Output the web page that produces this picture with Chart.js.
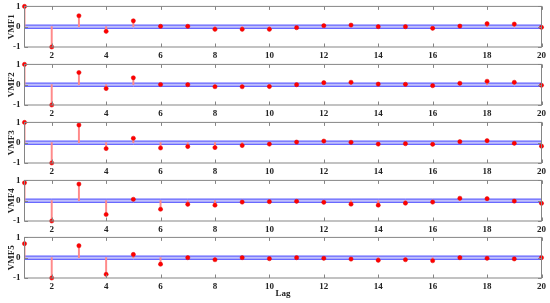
<!DOCTYPE html>
<html>
<head>
<meta charset="utf-8">
<script src="https://cdn.jsdelivr.net/npm/chart.js@4/dist/chart.umd.min.js"></script>
<style>
    body { margin: 0; background: #fff; }
    #wrap { position: relative; width: 550px; height: 303px; overflow: hidden; }
    #wrap canvas { position: absolute; left: 0; }
</style>
</head>
<body>
<div id="wrap"></div>
<script>
/* ===============
   DATA
   =============== */
const lags = [1, 2, 3, 4, 5, 6, 7, 8, 9, 10, 11, 12, 13, 14, 15, 16, 17, 18, 19, 20];
const xTicks = [2, 4, 6, 8, 10, 12, 14, 16, 18, 20];
const yTicks = [-1, 0, 1];
const confBound = 0.08;

const vmf1 = [1, -1, 0.54, -0.23, 0.29, 0.02, 0.02, -0.13, -0.13, -0.13, -0.05, 0.05, 0.08, 0, 0, -0.08, 0.03, 0.15, 0.13, -0.03];
const vmf2 = [1, -1, 0.6, -0.19, 0.34, 0.01, 0, -0.1, -0.1, -0.09, 0, 0.1, 0.12, 0.03, 0.02, -0.05, 0.07, 0.17, 0.12, -0.03];
const vmf3 = [1, -1, 0.87, -0.29, 0.22, -0.26, -0.19, -0.24, -0.14, -0.07, 0.03, 0.08, 0.02, -0.07, -0.05, -0.08, 0.05, 0.1, -0.03, -0.17];
const vmf4 = [0.88, -1, 0.82, -0.68, 0.07, -0.42, -0.18, -0.22, -0.07, -0.05, -0.03, -0.08, -0.17, -0.22, -0.12, -0.07, 0.12, 0.1, -0.02, -0.13];
const vmf5 = [0.69, -1, 0.59, -0.82, 0.16, -0.32, 0, -0.1, 0, -0.05, 0, -0.03, -0.07, -0.13, -0.1, -0.15, 0, -0.03, -0.06, 0];

const panelNames = ['VMF1', 'VMF2', 'VMF3', 'VMF4', 'VMF5'];
const panelValues = [vmf1, vmf2, vmf3, vmf4, vmf5];
const xTitle = 'Lag';

/* ===============
   LAYOUT
   =============== */
const panelTops = [6, 64, 122, 180, 237];
const plotH = 41;
const FONT = { family: "'Liberation Serif', 'DejaVu Serif', serif", size: 9, weight: 'bold' };

// box + inward ticks, matlab style
const boxPlugin = {
    id: 'box',
    afterDraw(chart) {
        const { ctx, chartArea: a, scales } = chart;
        ctx.save();
        ctx.strokeStyle = '#858585';
        ctx.lineWidth = 1;
        ctx.strokeRect(a.left, a.top, a.right - a.left, a.bottom - a.top);
        const tl = 3.5;
        ctx.beginPath();
        xTicks.forEach(v => {
            const px = Math.round(scales.x.getPixelForValue(v)) + 0.5;
            ctx.moveTo(px, a.top); ctx.lineTo(px, a.top + tl);
            ctx.moveTo(px, a.bottom); ctx.lineTo(px, a.bottom - tl);
        });
        yTicks.forEach(v => {
            const py = Math.round(scales.y.getPixelForValue(v)) + 0.5;
            ctx.moveTo(a.left, py); ctx.lineTo(a.left + tl, py);
            ctx.moveTo(a.right, py); ctx.lineTo(a.right - tl, py);
        });
        ctx.stroke();
        ctx.restore();
    }
};

function buildChart(cv, i, xH) {
    const isLast = i === panelNames.length - 1;
    const vals = panelValues[i];
    const pts = lags.map((x, k) => ({ x: x, y: vals[k] }));
    return new Chart(cv.getContext('2d'), {
        type: 'bar',
        data: {
            datasets: [
                { type: 'line', data: lags.map(x => ({ x: x, y: confBound })), borderColor: '#4b4bff', borderWidth: 1,
                  pointRadius: 0, fill: { target: { value: -confBound } }, backgroundColor: 'rgba(140,140,250,0.55)', order: 4 },
                { type: 'line', data: lags.map(x => ({ x: x, y: -confBound })), borderColor: '#4b4bff', borderWidth: 1,
                  pointRadius: 0, fill: false, order: 3 },
                { type: 'bar', data: pts, backgroundColor: '#ff8a8a', barThickness: 1.3, order: 2 },
                { type: 'line', data: pts, showLine: false, pointRadius: 2.1, pointBackgroundColor: '#ff0000',
                  pointBorderColor: '#e00000', pointBorderWidth: 0.5, clip: false, order: 1 }
            ]
        },
        options: {
            responsive: false,
            maintainAspectRatio: false,
            animation: false,
            layout: { padding: { top: 0, right: 8.5, left: 0, bottom: 0 } },
            plugins: { legend: { display: false }, tooltip: { enabled: false } },
            scales: {
                x: {
                    type: 'linear', min: 1, max: 20, offset: false,
                    grid: { display: false, drawTicks: false, offset: false }, border: { display: false },
                    afterBuildTicks: axis => { axis.ticks = xTicks.map(v => ({ value: v })); },
                    afterFit: axis => { axis.height = xH; },
                    ticks: { font: FONT, color: '#222', padding: 3, maxRotation: 0 },
                    title: { display: isLast, text: xTitle, font: FONT, color: '#222', padding: { top: 0, bottom: 3.5 } }
                },
                y: {
                    min: -1, max: 1,
                    grid: { display: false, drawTicks: false }, border: { display: false },
                    afterBuildTicks: axis => { axis.ticks = yTicks.map(v => ({ value: v })); },
                    afterFit: axis => { axis.width = 24.5; },
                    ticks: { font: FONT, color: '#222', padding: 4 },
                    title: { display: true, text: panelNames[i], font: FONT, color: '#222', padding: { top: 6, bottom: 0 } }
                }
            }
        },
        plugins: [boxPlugin]
    });
}

function makePanel(i) {
    const isLast = i === panelNames.length - 1;
    const xH = isLast ? 25 : 14;
    const cv = document.createElement('canvas');
    cv.width = 550; cv.height = 80;
    document.getElementById('wrap').appendChild(cv);

    // first pass: find where the plot area starts, then size the canvas so it is plotH tall
    let chart = buildChart(cv, i, xH);
    const areaTop = chart.chartArea.top;
    chart.destroy();

    cv.width = 550; cv.height = Math.round(areaTop + plotH + xH);
    cv.style.top = (panelTops[i] - areaTop) + 'px';
    buildChart(cv, i, xH);
}

panelNames.forEach((n, i) => makePanel(i));
</script>
</body>
</html>
